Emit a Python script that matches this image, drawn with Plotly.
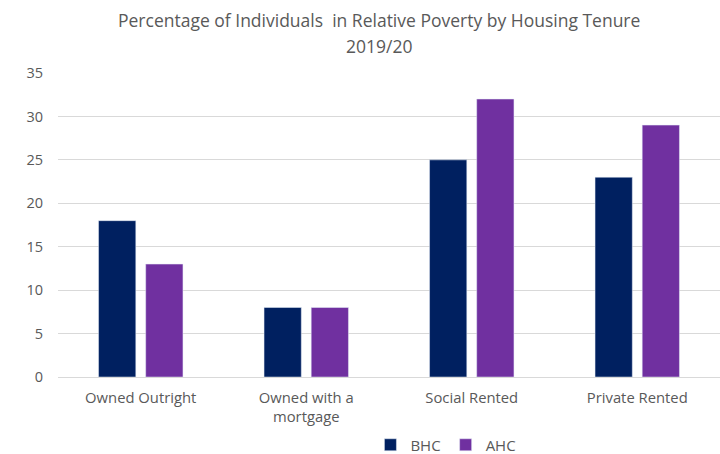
import plotly.graph_objects as go

tenures = ["Owned Outright", "Owned with a<br>mortgage", "Social Rented", "Private Rented"]
bhc = [18, 8, 25, 23]
ahc = [13, 8, 32, 29]
y_ticks = [0, 5, 10, 15, 20, 25, 30, 35]
title_lines = ["Percentage of Individuals  in Relative Poverty by Housing Tenure", "2019/20"]

fig = go.Figure()
fig.add_trace(go.Bar(name="BHC", x=tenures, y=bhc, marker_color="#002060"))
fig.add_trace(go.Bar(name="AHC", x=tenures, y=ahc, marker_color="#7030A0"))

font_family = "Open Sans, Lato, sans-serif"
text_color = "#595959"

H, TOP, BOTTOM = 454, 73, 77
plot_h = H - TOP - BOTTOM


def paper_y(px):
    """Convert a pixel row (from the top) to paper y."""
    return (H - BOTTOM - px) / plot_h


# Two-line chart title
for i, line in enumerate(title_lines):
    fig.add_annotation(
        text=line, xref="paper", yref="paper", x=0.485, y=paper_y(20 + 26 * i),
        xanchor="center", yanchor="middle", showarrow=False,
        font=dict(size=17.5, color=text_color, family=font_family),
    )

fig.update_layout(
    width=720, height=H,
    margin=dict(l=58, r=0, t=TOP, b=BOTTOM, autoexpand=False),
    paper_bgcolor="white", plot_bgcolor="white",
    barmode="group", bargap=0.43, bargroupgap=0.21,
    font=dict(family=font_family, color=text_color, size=14),
    xaxis=dict(showgrid=False, showline=False, ticks="", ticklabelstandoff=10,
               tickfont=dict(size=14.8)),
    yaxis=dict(range=[0, 35], tickvals=y_ticks, showgrid=True, gridcolor="#d9d9d9",
               gridwidth=1, zeroline=True, zerolinecolor="#d9d9d9", zerolinewidth=1,
               ticks="", ticklabelstandoff=14, tickfont=dict(size=14.5)),
    legend=dict(orientation="h", x=0.586, xanchor="center", yref="paper",
                y=paper_y(445), yanchor="middle",
                font=dict(size=15, color=text_color), itemwidth=30,
                traceorder="normal"),
)

fig.write_html("out.html")
